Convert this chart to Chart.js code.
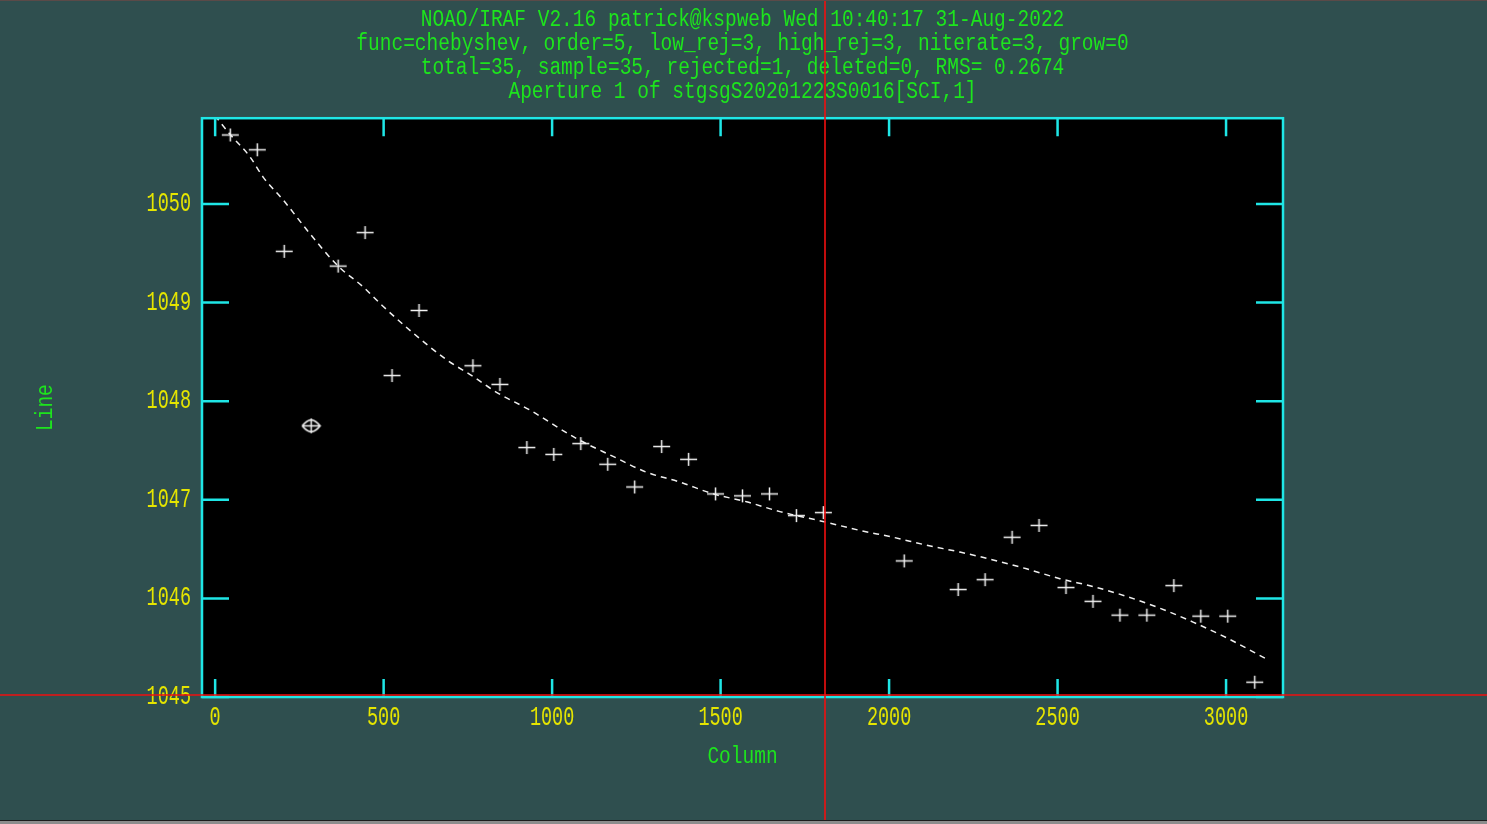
<!DOCTYPE html>
<html>
<head>
<meta charset="utf-8">
<script src="https://cdn.jsdelivr.net/npm/chart.js@4.4.0/dist/chart.umd.min.js"></script>
<style>
html,body{margin:0;padding:0;background:#2f4f4f;overflow:hidden}
#wrap{width:1487px;height:824px;position:relative}
canvas{display:block}
</style>
</head>
<body>
<div id="wrap"><canvas id="c" width="1487" height="824"></canvas></div>
<script>
// ---------- DATA ----------
const titleLines = [
  'NOAO/IRAF V2.16 patrick@kspweb Wed 10:40:17 31-Aug-2022',
  'func=chebyshev, order=5, low_rej=3, high_rej=3, niterate=3, grow=0',
  'total=35, sample=35, rejected=1, deleted=0, RMS= 0.2674',
  'Aperture 1 of stgsgS20201223S0016[SCI,1]'
];
const xAxisTitle = 'Column';
const yAxisTitle = 'Line';

// measured lines (kept points)
const columns = [45, 125, 205, 365, 445, 525, 605, 765, 845, 925, 1005, 1085, 1165, 1245,
  1325, 1405, 1485, 1565, 1645, 1725, 1805, 2045, 2205, 2285, 2365, 2445, 2525, 2605,
  2685, 2765, 2845, 2925, 3005, 3085];
const lines = [1050.70, 1050.55, 1049.52, 1049.37, 1049.71, 1048.26, 1048.92, 1048.36, 1048.17,
  1047.53, 1047.46, 1047.57, 1047.36, 1047.13, 1047.54, 1047.41, 1047.06, 1047.04, 1047.06,
  1046.84, 1046.87, 1046.38, 1046.09, 1046.19, 1046.62, 1046.74, 1046.11, 1045.97, 1045.83,
  1045.83, 1046.13, 1045.82, 1045.82, 1045.15];

// rejected point
const rejectedColumns = [285];
const rejectedLines = [1047.75];

// fitted chebyshev curve
const fitColumns = [0, 6, 46, 103, 143, 202, 281, 365, 439, 499, 588, 687, 766, 835, 934, 1073,
  1181, 1280, 1379, 1478, 1577, 1676, 1804, 1913, 2012, 2111, 2210, 2309, 2408, 2507, 2606,
  2705, 2804, 2902, 3002, 3128];
const fitLines = [1050.90, 1050.87, 1050.70, 1050.48, 1050.27, 1050.04, 1049.70, 1049.37, 1049.16,
  1048.96, 1048.69, 1048.42, 1048.25, 1048.09, 1047.91, 1047.62, 1047.44, 1047.28, 1047.18,
  1047.06, 1046.98, 1046.88, 1046.78, 1046.69, 1046.62, 1046.54, 1046.47, 1046.39, 1046.30,
  1046.20, 1046.12, 1046.02, 1045.90, 1045.76, 1045.60, 1045.37];

const xTicks = [0, 500, 1000, 1500, 2000, 2500, 3000];
const yTicks = [1045, 1046, 1047, 1048, 1049, 1050];
const xRange = [-39, 3169];
const yRange = [1045, 1050.87];

// graphics cursor position (data units)
const cursorColumn = [1809];
const cursorLine = [1045.015];

// ---------- STYLE ----------
const BG = '#2f4f4f';
const FRAME = '#1fe6e6';
const GREEN = '#1de51d';
const YELLOW = '#e5e500';
const FONT = "'Liberation Mono', 'DejaVu Sans Mono', monospace";

const canvas = document.getElementById('c');
const ctx = canvas.getContext('2d');

// tall, narrow IRAF-like lettering: stretch glyphs vertically
const protoFill = CanvasRenderingContext2D.prototype.fillText;
ctx.fillText = function (text, x, y, maxWidth) {
  const fs = String(this.fillStyle).toLowerCase();
  const k = (fs === YELLOW) ? 1.45 : 1.25;
  this.save();
  this.translate(x, y);
  this.scale(1, k);
  if (maxWidth !== undefined) protoFill.call(this, text, 0, 0, maxWidth);
  else protoFill.call(this, text, 0, 0);
  this.restore();
};

function makeCross() {
  const c = document.createElement('canvas');
  c.width = 19; c.height = 15;
  const g = c.getContext('2d');
  g.strokeStyle = '#f2f2f2'; g.lineWidth = 1.5;
  g.beginPath();
  g.moveTo(1, 7.5); g.lineTo(18, 7.5);
  g.moveTo(9.5, 1); g.lineTo(9.5, 14);
  g.stroke();
  return c;
}
function makeRejected() {
  const c = document.createElement('canvas');
  c.width = 21; c.height = 17;
  const g = c.getContext('2d');
  g.strokeStyle = '#f2f2f2'; g.lineWidth = 1.5;
  g.beginPath();
  g.moveTo(1.5, 8.5); g.quadraticCurveTo(6, 3, 10.5, 2.5); g.quadraticCurveTo(15, 3, 19.5, 8.5);
  g.quadraticCurveTo(15, 14, 10.5, 14.5); g.quadraticCurveTo(6, 14, 1.5, 8.5);
  g.moveTo(2, 8.5); g.lineTo(19, 8.5);
  g.moveTo(10.5, 1); g.lineTo(10.5, 16);
  g.stroke();
  return c;
}

const pts = columns.map((c, i) => ({x: c, y: lines[i]}));
const rej = rejectedColumns.map((c, i) => ({x: c, y: rejectedLines[i]}));
const fit = fitColumns.map((c, i) => ({x: c, y: fitLines[i]}));

const backgroundPlugin = {
  id: 'bg',
  beforeDraw(chart) {
    const g = chart.ctx, a = chart.chartArea;
    g.save();
    g.fillStyle = BG;
    g.fillRect(0, 0, chart.width, chart.height);
    g.fillStyle = '#5a4a48';
    g.fillRect(0, 0, chart.width, 1);
    g.fillStyle = '#1b1b1b';
    g.fillRect(0, chart.height - 4, chart.width, 1);
    g.fillStyle = '#8c8c8c';
    g.fillRect(0, chart.height - 3, chart.width, 3);
    g.fillStyle = '#000000';
    g.fillRect(a.left, a.top, a.right - a.left, a.bottom - a.top);
    g.restore();
  }
};

const framePlugin = {
  id: 'frame',
  afterDatasetsDraw(chart) {
    const g = chart.ctx, a = chart.chartArea;
    const xs = chart.scales.x, ys = chart.scales.y;
    g.save();
    g.setLineDash([]);
    g.strokeStyle = FRAME;
    g.lineWidth = 2.5;
    g.strokeRect(a.left, a.top, a.right - a.left, a.bottom - a.top);
    g.beginPath();
    xs.ticks.forEach(t => {
      const px = xs.getPixelForValue(t.value);
      g.moveTo(px, a.bottom); g.lineTo(px, a.bottom - 18);
      g.moveTo(px, a.top); g.lineTo(px, a.top + 18);
    });
    ys.ticks.forEach(t => {
      const py = ys.getPixelForValue(t.value);
      g.moveTo(a.left, py); g.lineTo(a.left + 27, py);
      g.moveTo(a.right, py); g.lineTo(a.right - 27, py);
    });
    g.stroke();
    g.restore();
  }
};

const cursorPlugin = {
  id: 'cursor',
  afterDraw(chart) {
    const g = chart.ctx;
    const px = Math.round(chart.scales.x.getPixelForValue(cursorColumn[0]));
    const py = Math.round(chart.scales.y.getPixelForValue(cursorLine[0]));
    g.save();
    g.setLineDash([]);
    g.globalAlpha = 1;
    g.strokeStyle = '#f01010';
    g.lineWidth = 1.6;
    g.beginPath();
    g.moveTo(px, 1); g.lineTo(px, chart.height - 4);
    g.moveTo(0, py - 1); g.lineTo(chart.width, py - 1);
    g.stroke();
    g.restore();
  }
};

const tickText = v => String(v);

new Chart(ctx, {
  type: 'scatter',
  data: {
    datasets: [
      {
        label: 'fit', type: 'line', data: fit, showLine: true,
        borderColor: '#f0f0f0', borderWidth: 1.5, borderDash: [6, 5],
        pointRadius: 0, fill: false, cubicInterpolationMode: 'monotone', order: 3
      },
      {
        label: 'points', data: pts, pointStyle: makeCross(), pointRadius: 8, order: 2
      },
      {
        label: 'rejected', data: rej, pointStyle: makeRejected(), pointRadius: 8, order: 1
      }
    ]
  },
  options: {
    responsive: false,
    devicePixelRatio: 1,
    animation: false,
    events: [],
    layout: { padding: { left: 0, right: 204, top: 0, bottom: 0 } },
    plugins: {
      legend: { display: false },
      tooltip: { enabled: false },
      title: {
        display: true,
        fullSize: false,
        text: titleLines,
        color: GREEN,
        font: { family: FONT, size: 19.5, weight: 'normal', lineHeight: 24.3 / 19.5 },
        padding: { top: 7, bottom: 14 }
      }
    },
    scales: {
      x: {
        type: 'linear', position: 'bottom',
        min: xRange[0], max: xRange[1],
        afterBuildTicks: s => { s.ticks = xTicks.map(v => ({value: v})); },
        afterFit: s => { s.height = 127; },
        grid: { display: false, drawTicks: false },
        border: { display: false },
        ticks: { color: YELLOW, font: { family: FONT, size: 18.5 }, padding: 10, maxRotation: 0,
          autoSkip: false, callback: tickText },
        title: { display: true, text: xAxisTitle, color: GREEN,
          font: { family: FONT, size: 19.5, lineHeight: 1.2 }, padding: { top: 0, bottom: 55.5 } }
      },
      y: {
        type: 'linear', position: 'left',
        min: yRange[0], max: yRange[1],
        afterBuildTicks: s => { s.ticks = yTicks.map(v => ({value: v})); },
        afterFit: s => { s.width = 202; },
        grid: { display: false, drawTicks: false },
        border: { display: false },
        ticks: { color: YELLOW, font: { family: FONT, size: 18.5 }, padding: 11, autoSkip: false,
          callback: tickText },
        title: { display: true, text: yAxisTitle, color: GREEN,
          font: { family: FONT, size: 19.5, lineHeight: 1.2 }, padding: { top: 33.5, bottom: 0 } }
      }
    }
  },
  plugins: [backgroundPlugin, framePlugin, cursorPlugin]
});
</script>
</body>
</html>
